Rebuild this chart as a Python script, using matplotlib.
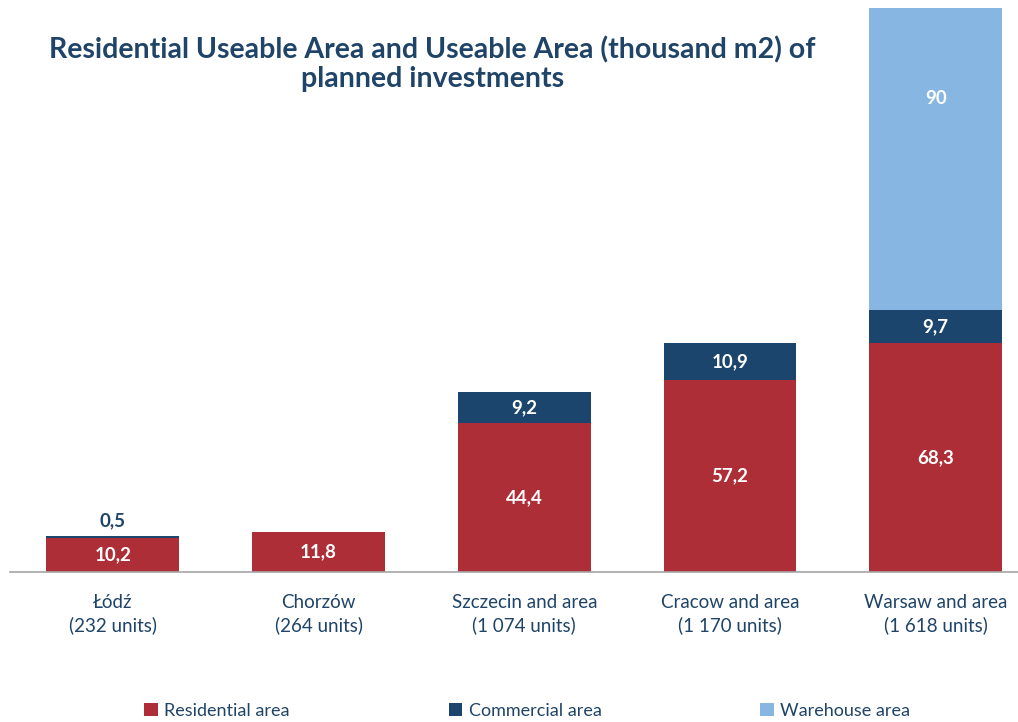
import matplotlib.pyplot as plt
import numpy as np

cities = ['Łódź\n(232 units)', 'Chorzów\n(264 units)', 'Szczecin and area\n(1 074 units)',
          'Cracow and area\n(1 170 units)', 'Warsaw and area\n(1 618 units)']
residential = [10.2, 11.8, 44.4, 57.2, 68.3]
commercial = [0.5, 0, 9.2, 10.9, 9.7]
warehouse = [0, 0, 0, 0, 90]

c_res = '#AD2E37'
c_com = '#1B456D'
c_war = '#86B6E1'
navy = '#1F4468'

plt.rcParams['font.family'] = ['Lato', 'DejaVu Sans']

fig = plt.figure(figsize=(10.18, 7.22), dpi=100)
ax = fig.add_axes([0.0098, 0.2078, 0.9902, 0.7811])

x = np.arange(len(cities))
w = 0.646
res = np.array(residential)
com = np.array(commercial)
war = np.array(warehouse)

ax.bar(x, res, w, color=c_res, label='Residential area')
ax.bar(x, com, w, bottom=res, color=c_com, label='Commercial area')
ax.bar(x, war, w, bottom=res + com, color=c_war, label='Warehouse area')

def fmt(v):
    return ('%g' % v).replace('.', ',')

for i in range(len(x)):
    ax.text(x[i], res[i] / 2, fmt(res[i]), ha='center', va='center',
            color='white', fontsize=13.5, fontweight='bold')
    if com[i] > 2:
        ax.text(x[i], res[i] + com[i] / 2, fmt(com[i]), ha='center', va='center',
                color='white', fontsize=13.5, fontweight='bold')
    elif com[i] > 0:
        ax.text(x[i], res[i] + com[i] + 4.5, fmt(com[i]), ha='center', va='center',
                color=navy, fontsize=13.5, fontweight='bold')
    if war[i] > 0:
        ax.text(x[i], res[i] + com[i] + war[i] * 0.70, fmt(war[i]), ha='center', va='center',
                color='white', fontsize=13.5, fontweight='bold')

ax.set_xlim(-0.5, 4.4)
ax.set_ylim(0, 168)
ax.set_xticks(x)
ax.set_xticklabels(cities, fontsize=13.5, color=navy, linespacing=1.35)
ax.tick_params(axis='x', length=0, pad=16)
ax.set_yticks([])
for s in ['top', 'right', 'left']:
    ax.spines[s].set_visible(False)
ax.spines['bottom'].set_color('#A6A6A6')
ax.spines['bottom'].set_linewidth(1.2)
ax.set_facecolor('none')

fig.text(0.425, 0.911, 'Residential Useable Area and Useable Area (thousand m2) of\nplanned investments',
         ha='center', va='center', fontsize=20.5, fontweight='bold', color=navy, linespacing=1.15)

leg = fig.legend(loc='center', bbox_to_anchor=(0.518, 0.015), ncol=3, frameon=False,
                 fontsize=13, handlelength=0.75, handleheight=0.75, handletextpad=0.35,
                 columnspacing=8.8)
for t in leg.get_texts():
    t.set_color(navy)

fig.savefig('out.png', dpi=100)
